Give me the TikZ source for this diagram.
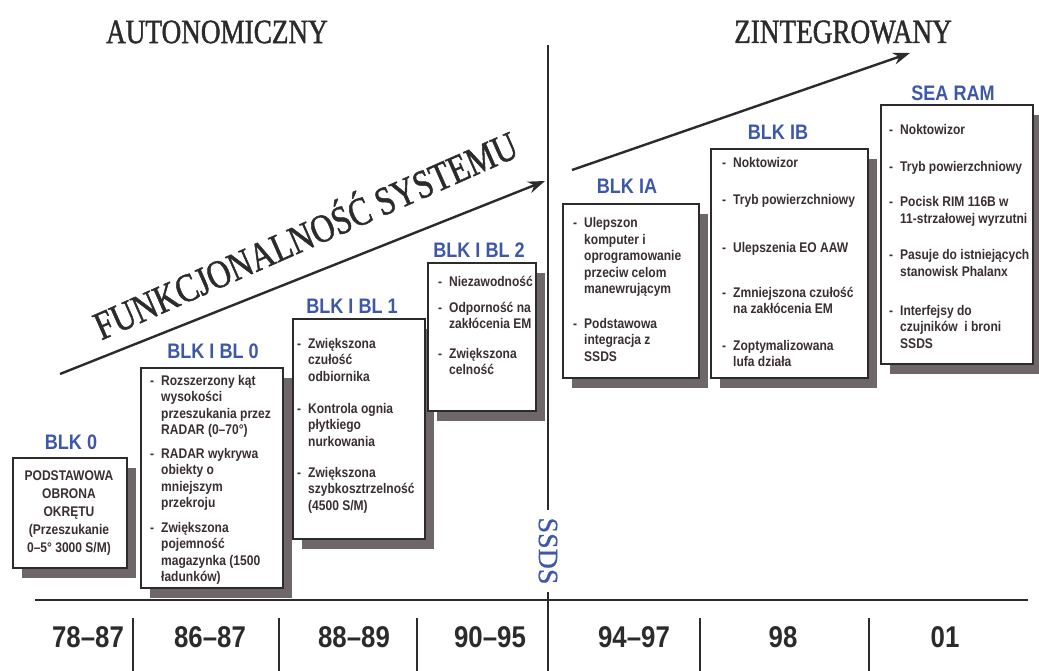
\documentclass[tikz,border=0pt]{standalone}
\usepackage{fontspec}
\setmainfont{Liberation Serif}
\newfontfamily\nar[FakeStretch=0.86]{Liberation Sans}
\newfontfamily\ser[FakeStretch=0.8,FakeBold=1.2]{Liberation Serif}
\newfontfamily\serf[FakeStretch=0.81,FakeBold=1.2]{Liberation Serif}
\newfontfamily\sers[FakeBold=0.6]{Liberation Serif}
\usetikzlibrary{arrows.meta,shadows}
\definecolor{txt}{HTML}{3A2E33}
\definecolor{blk}{HTML}{3D58A8}
\definecolor{shd}{HTML}{6F6669}
\definecolor{ln}{HTML}{2B2B2B}
\newcommand{\itm}[1]{\makebox[11pt][l]{-}\begin{tabular}[t]{@{}l@{}}#1\end{tabular}}
\tikzset{
 box/.style={draw=ln, line width=1.6pt, fill=white, anchor=north west, inner sep=0pt,
   drop shadow={shadow xshift=9pt, shadow yshift=-10pt, opacity=1, fill=shd}},
 itemtext/.style={anchor=base west, inner sep=0pt, text=txt, font=\nar\bfseries\fontsize{14}{16.5}\selectfont},
 head/.style={text=blk, font=\nar\bfseries\fontsize{21}{24}\selectfont, inner sep=0pt},
 year/.style={text=ln, font=\nar\bfseries\fontsize{30}{34}\selectfont, inner sep=0pt},
 titletext/.style={text=ln, font=\ser\fontsize{34}{38}\selectfont, inner sep=0pt},
 rule/.style={draw=ln, line width=1.6pt},
 prog/.style={draw=ln, line width=2.4pt, -{Stealth[length=17pt,width=12pt]}},
}
\begin{document}
\begin{tikzpicture}[x=1pt,y=-1pt]
\useasboundingbox (0,0) rectangle (1039,671);
% titles
\node[titletext] (tA) at (217,32) {AUTONOMICZNY};
\node[titletext] (tZ) at (843,32) {ZINTEGROWANY};
% divider
\coordinate (d1) at (548,45);
\coordinate (d2) at (548,510);
\coordinate (d3) at (548,592);
\coordinate (d4) at (548,671);
\draw[rule] (d1) -- (d2);
\draw[rule] (d3) -- (d4);
\node[text=blk, font=\sers\fontsize{28}{32}\selectfont, rotate=-90, inner sep=0pt] (ssds) at (548,551) {SSDS};
% time axis
\coordinate (h1) at (35,600);
\coordinate (h2) at (1028,600);
\draw[rule] (h1) -- (h2);
\foreach \x/\n in {133/s1,279/s2,417/s3,700/s4,869/s5}{
  \coordinate (\n a) at (\x,618);
  \coordinate (\n b) at (\x,671);
  \draw[rule] (\n a) -- (\n b);
}
\node[year] (y1) at (88,637) {78–87};
\node[year] (y2) at (210,637) {86–87};
\node[year] (y3) at (354,637) {88–89};
\node[year] (y4) at (490,637) {90–95};
\node[year] (y5) at (634,637) {94–97};
\node[year] (y6) at (783,637) {98};
\node[year] (y7) at (945,637) {01};
% progress arrows
\coordinate (a1s) at (60,374);
\coordinate (a1e) at (545,181);
\draw[prog] (a1s) -- (a1e);
\coordinate (a2s) at (572,170);
\coordinate (a2e) at (910,53);
\draw[prog] (a2s) -- (a2e);
\node[font=\serf\fontsize{40}{44}\selectfont, text=ln, rotate=23.8, inner sep=0pt, anchor=base] (func) at (311,248) {FUNKCJONALNOŚĆ SYSTEMU};
% boxes
\node[box, minimum width=114pt, minimum height=110pt] (b0) at (12,457) {};
\node[box, minimum width=142pt, minimum height=220pt] (b1) at (140,367) {};
\node[box, minimum width=132pt, minimum height=220pt] (b2) at (292,318) {};
\node[box, minimum width=108pt, minimum height=148pt] (b3) at (427,262) {};
\node[box, minimum width=136pt, minimum height=174pt] (b4) at (562,203) {};
\node[box, minimum width=157pt, minimum height=229pt] (b5) at (710,148) {};
\node[box, minimum width=152pt, minimum height=259pt] (b6) at (880,104) {};
% headings
\node[head] (h0) at (71,442) {BLK 0};
\node[head] (hb1) at (213,351) {BLK I BL 0};
\node[head] (hb2) at (352,306) {BLK I BL 1};
\node[head] (hb3) at (479,250) {BLK I BL 2};
\node[head] (hb4) at (627,186) {BLK IA};
\node[head] (hb5) at (778,132) {BLK IB};
\node[head] (hb6) at (953,93) {SEA RAM};
% box texts
\node[itemtext, anchor=base, font=\nar\bfseries\fontsize{14}{18}\selectfont] (t0) at (69,480)
  {\begin{tabular}[t]{@{}c@{}}PODSTAWOWA\\OBRONA\\OKRĘTU\\(Przeszukanie\\0–5° 3000 S/M)\end{tabular}};
\node[itemtext] (t11) at (150,385) {\itm{Rozszerzony kąt\\wysokości\\przeszukania przez\\RADAR (0–70°)}};
\node[itemtext] (t12) at (150,458) {\itm{RADAR wykrywa\\obiekty o\\mniejszym\\przekroju}};
\node[itemtext] (t13) at (150,532) {\itm{Zwiększona\\pojemność\\magazynka (1500\\ładunków)}};
\node[itemtext] (t21) at (297,348) {\itm{Zwiększona\\czułość\\odbiornika}};
\node[itemtext] (t22) at (297,413) {\itm{Kontrola ognia\\płytkiego\\nurkowania}};
\node[itemtext] (t23) at (297,477) {\itm{Zwiększona\\szybkosztrzelność\\(4500 S/M)}};
\node[itemtext] (t31) at (438,287) {\itm{Niezawodność}};
\node[itemtext] (t32) at (438,312) {\itm{Odporność na\\zakłócenia EM}};
\node[itemtext] (t33) at (438,358) {\itm{Zwiększona\\celność}};
\node[itemtext] (t41) at (573,228) {\itm{Ulepszon\\komputer i\\oprogramowanie\\przeciw celom\\manewrującym}};
\node[itemtext] (t42) at (573,328) {\itm{Podstawowa\\integracja z\\SSDS}};
\node[itemtext] (t51) at (722,168) {\itm{Noktowizor}};
\node[itemtext] (t52) at (722,205) {\itm{Tryb powierzchniowy}};
\node[itemtext] (t53) at (722,252) {\itm{Ulepszenia EO AAW}};
\node[itemtext] (t54) at (722,297) {\itm{Zmniejszona czułość\\na zakłócenia EM}};
\node[itemtext] (t55) at (722,350) {\itm{Zoptymalizowana\\lufa działa}};
\node[itemtext] (t61) at (889,135) {\itm{Noktowizor}};
\node[itemtext] (t62) at (889,172) {\itm{Tryb powierzchniowy}};
\node[itemtext] (t63) at (889,207) {\itm{Pocisk RIM 116B w\\11-strzałowej wyrzutni}};
\node[itemtext] (t64) at (889,260) {\itm{Pasuje do istniejących\\stanowisk Phalanx}};
\node[itemtext] (t65) at (889,315) {\itm{Interfejsy do\\czujników\ \ i broni\\SSDS}};
\end{tikzpicture}
\end{document}
